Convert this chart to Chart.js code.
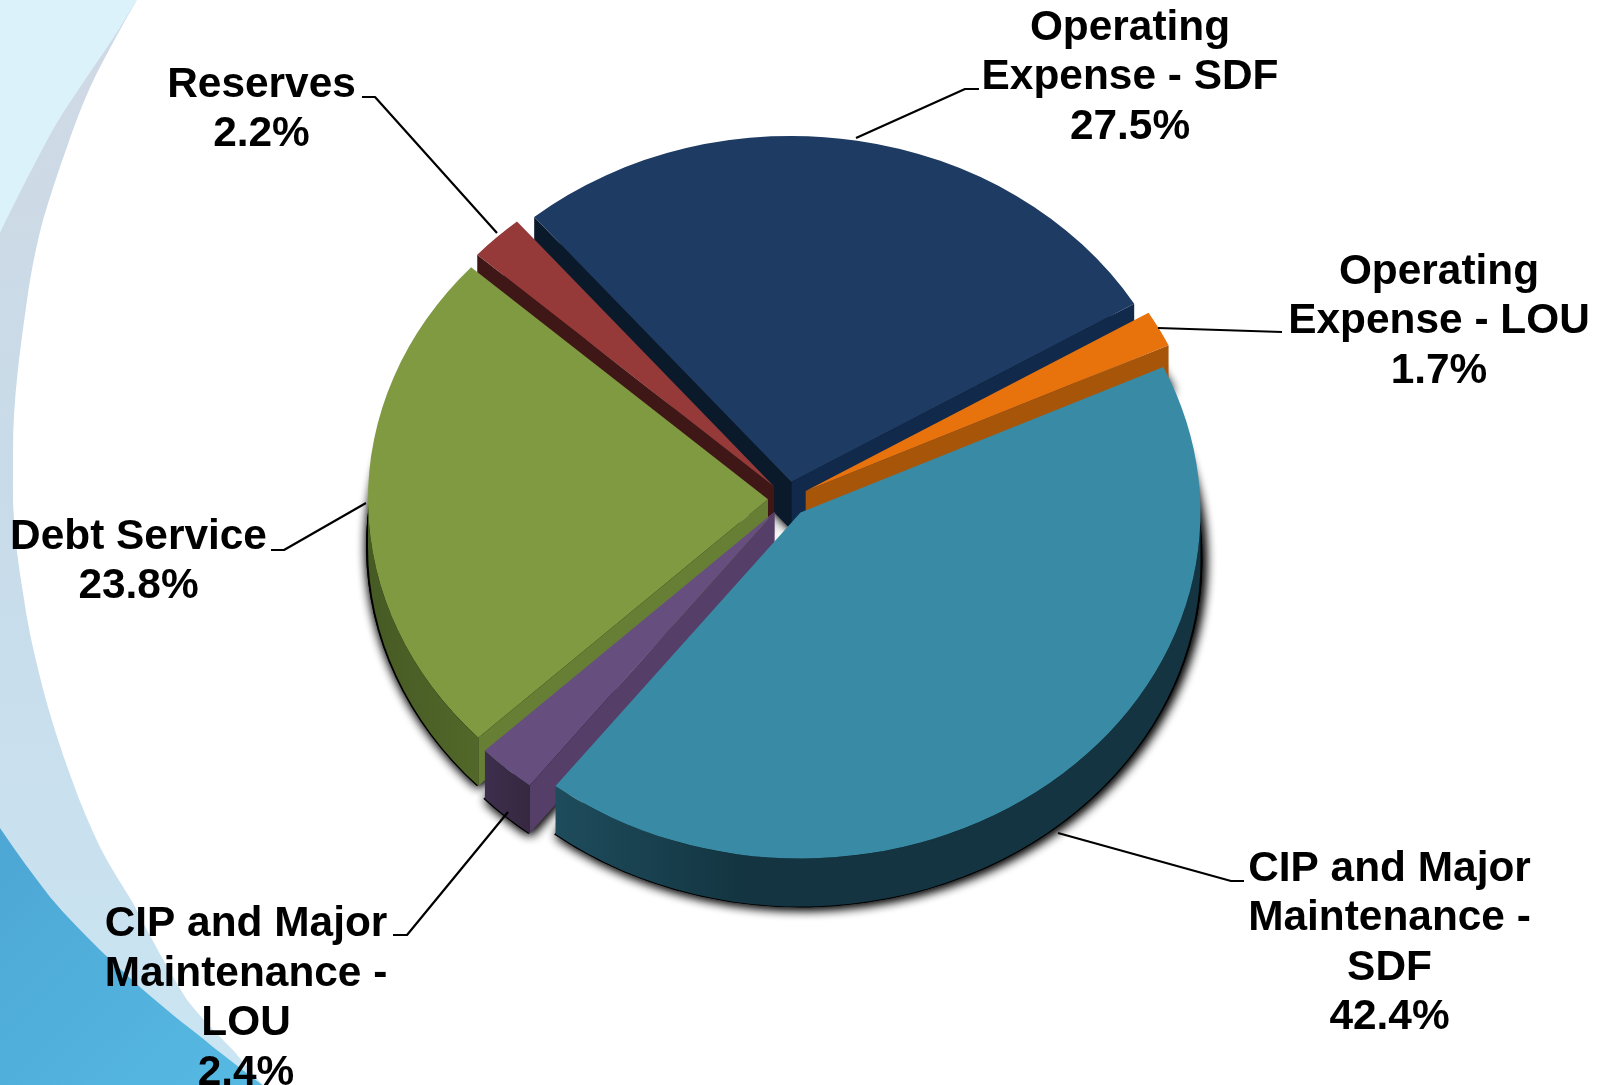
<!DOCTYPE html>
<html>
<head>
<meta charset="utf-8">
<style>
html,body{margin:0;padding:0;background:#fff;overflow:hidden}
#wrap{position:relative;width:1602px;height:1085px}
#bg{position:absolute;left:0;top:0}
#c{position:absolute;left:0;top:0}
</style>
<script src="https://cdn.jsdelivr.net/npm/chart.js@4"></script>
</head>
<body>
<div id="wrap">
<svg id="bg" width="1602" height="1085" viewBox="0 0 1602 1085">
  <defs>
    <linearGradient id="band" x1="0" y1="0" x2="0" y2="1">
      <stop offset="0" stop-color="#d0d9e4"/>
      <stop offset="0.45" stop-color="#c8dbe9"/>
      <stop offset="1" stop-color="#cae5f3"/>
    </linearGradient>
    <linearGradient id="deep" x1="0" y1="0" x2="1" y2="1">
      <stop offset="0" stop-color="#4da6d4"/>
      <stop offset="1" stop-color="#56bae3"/>
    </linearGradient>
  </defs>
  <rect x="0" y="0" width="300" height="1085" fill="url(#band)"/>
  <path fill="#dcf2fb" d="M0 0 L137 0 C 128 14, 120 28, 110 43 C 95 65, 78 90, 63 113 C 52 130, 43 148, 33 167 C 22 188, 10 212, 0 233 Z"/>
  <path fill="url(#deep)" d="M0 828 C 16 852, 33 875, 50 897 C 66 916, 83 933, 100 950 C 122 971, 145 992, 167 1010 C 182 1023, 198 1034, 213 1047 C 230 1060, 245 1072, 262 1085 L 0 1085 Z"/>
  <path fill="#ffffff" d="M137 0 C 124 22, 112 44, 100 67 C 87 92, 76 120, 67 147 C 58 172, 50 196, 43 220 C 36 246, 31 272, 27 300 C 20 350, 13 400, 13 450 C 13 468, 13 484, 13 500 C 14 532, 18 563, 23 593 C 27 622, 33 650, 40 677 C 49 714, 61 750, 72 780 C 80 803, 90 826, 100 847 C 110 867, 122 885, 133 903 C 150 936, 168 970, 187 1000 C 201 1018, 218 1035, 233 1050 C 243 1062, 253 1074, 263 1085 L 1602 1085 L 1602 0 Z"/>
</svg>
<canvas id="c" width="1602" height="1085"></canvas>
</div>
<script>
// ---- data ----
const categories = [
  "Operating Expense - SDF",
  "Operating Expense - LOU",
  "CIP and Major Maintenance - SDF",
  "CIP and Major Maintenance - LOU",
  "Debt Service",
  "Reserves"
];
const shares = [27.5, 1.7, 42.4, 2.4, 23.8, 2.2];

// ---- wrapped label text ----
const labelLines = [
  ["Operating", "Expense - SDF"],
  ["Operating", "Expense - LOU"],
  ["CIP and Major", "Maintenance -", "SDF"],
  ["CIP and Major", "Maintenance -", "LOU"],
  ["Debt Service"],
  ["Reserves"]
];

// ---- styles ----
const topColors   = ["#1e3c63", "#e8720c", "#398ba5", "#664f7f", "#7f9a41", "#953a39"];
const wallStart   = ["#0a1a2a", "#7a3f08", "#1d4a5a", "#553f69", "#667f35", "#3f1717"];
const wallEnd     = ["#11294b", "#a65509", "#143640", "#3a2a4a", "#4a5d25", "#2c1010"];
const rimFrom     = ["#11294b", "#a65509", "#1e4c5c", "#3e2e4e", "#465a24", "#3f1717"];
const rimTo       = ["#11294b", "#a65509", "#133440", "#35283f", "#526729", "#3f1717"];

// ---- layout (pixels, not data) ----
const pieRadius = 400, squash = 0.865, depth = 48, explode = 20;
const labelCentres = [[1130,28],[1439,272],[1389.5,869],[246,924.5],[138.5,537],[261.5,85]];
const lineGap = 49.5;
const leaders = [
  [[856,138],[965,89],[979,89]],
  [[1158,328],[1282,332]],
  [[1058,833],[1231,881],[1244,881]],
  [[508,812],[407,935],[393,935]],
  [[366,503],[284,550],[271,550]],
  [[497,233],[375,97],[362,97]]
];

function pieCentre(chart){
  const a=chart.chartArea;
  return {x:(a.left+a.right)/2, y:(a.top+a.bottom)/2};
}
function apexOf(arc,c){
  const mid=(arc.startAngle+arc.endAngle)/2;
  return {x:arc.x, y:c.y+(arc.y-c.y)*squash, mid};
}
function rimPoint(a,ap,dy){
  return {x:ap.x+Math.cos(a)*pieRadius, y:ap.y+Math.sin(a)*pieRadius*squash+dy};
}
function wedgePath(ctx,arc,ap,dy,grow){
  const r=pieRadius+grow;
  ctx.beginPath();
  ctx.moveTo(ap.x,ap.y+dy);
  ctx.ellipse(ap.x,ap.y+dy,r,r*squash,0,arc.startAngle,arc.endAngle);
  ctx.closePath();
}
function radialWall(ctx,ap,a,color){
  const r0=rimPoint(a,ap,0), r1=rimPoint(a,ap,depth);
  ctx.fillStyle=color;
  ctx.beginPath();
  ctx.moveTo(ap.x,ap.y);
  ctx.lineTo(r0.x,r0.y);
  ctx.lineTo(r1.x,r1.y);
  ctx.lineTo(ap.x,ap.y+depth);
  ctx.closePath();
  ctx.fill();
}
function rimWall(ctx,arc,ap,i){
  const TAU=Math.PI*2;
  let s=arc.startAngle, e=arc.endAngle;
  while(s<-1e-6){s+=TAU;e+=TAU;}
  while(s>=TAU){s-=TAU;e-=TAU;}
  let from,to;
  if(s<Math.PI){from=s;to=Math.min(e,Math.PI);}
  else if(e>TAU){from=TAU;to=Math.min(e,TAU+Math.PI);}
  else return;
  const rx=pieRadius, ry=rx*squash;
  const x0=ap.x+Math.cos(to)*rx, x1=ap.x+Math.cos(from)*rx;
  const g=ctx.createLinearGradient(Math.min(x0,x1),0,Math.max(x0,x1),0);
  g.addColorStop(0,rimFrom[i]); g.addColorStop(i===2?0.3:1,rimTo[i]); g.addColorStop(1,rimTo[i]);
  ctx.fillStyle=g;
  ctx.beginPath();
  ctx.ellipse(ap.x,ap.y,rx,ry,0,from,to);
  ctx.ellipse(ap.x,ap.y+depth,rx,ry,0,to,from,true);
  ctx.closePath();
  ctx.fill();
}

const pie3d = {
  id:'pie3d',
  afterDatasetsUpdate(chart){
    // explode each slice along its own middle angle
    const c=pieCentre(chart);
    chart.getDatasetMeta(0).data.forEach(arc=>{
      const mid=(arc.startAngle+arc.endAngle)/2;
      arc.x=c.x+Math.cos(mid)*explode;
      arc.y=c.y+Math.sin(mid)*explode;
    });
  },
  beforeDatasetsDraw(chart){
    const ctx=chart.ctx, arcs=chart.getDatasetMeta(0).data, c=pieCentre(chart);
    const items=arcs.map((arc,i)=>({arc,i,ap:apexOf(arc,c)}));
    // heavy soft shadow under the body
    ctx.save();
    ctx.shadowColor='#000';
    ctx.shadowBlur=12;
    ctx.shadowOffsetX=2;
    ctx.shadowOffsetY=1;
    ctx.fillStyle='#000';
    items.forEach(it=>{
      for(let n=0;n<2;n++){wedgePath(ctx,it.arc,it.ap,depth-1,2);ctx.fill();}
    });
    ctx.restore();
    // walls, back to front; only the walls that face the viewer
    items.slice().sort((a,b)=>Math.sin(a.ap.mid)-Math.sin(b.ap.mid)).forEach(it=>{
      ctx.save();
      rimWall(ctx,it.arc,it.ap,it.i);
      if(Math.cos(it.arc.startAngle)<0) radialWall(ctx,it.ap,it.arc.startAngle,wallStart[it.i]);
      if(Math.cos(it.arc.endAngle)>0) radialWall(ctx,it.ap,it.arc.endAngle,wallEnd[it.i]);
      ctx.restore();
    });
    // top faces: drawn by the library, flattened about the pie centre
    ctx.save();
    ctx.translate(c.x,c.y);
    ctx.scale(1,squash);
    ctx.translate(-c.x,-c.y);
  },
  afterDatasetsDraw(chart){
    chart.ctx.restore();
  },
  afterDraw(chart){
    const ctx=chart.ctx;
    ctx.save();
    ctx.strokeStyle='#000';
    ctx.lineWidth=2.2;
    ctx.lineJoin='round';
    leaders.forEach(pts=>{
      ctx.beginPath();
      pts.forEach((p,k)=>k?ctx.lineTo(p[0],p[1]):ctx.moveTo(p[0],p[1]));
      ctx.stroke();
    });
    ctx.fillStyle='#000';
    ctx.font='bold 42.4px "Liberation Sans", Arial, sans-serif';
    ctx.textAlign='center';
    ctx.textBaseline='middle';
    shares.forEach((v,i)=>{
      const lines=labelLines[i].concat([v.toFixed(1)+'%']);
      const c=labelCentres[i];
      lines.forEach((t,k)=>ctx.fillText(t,c[0],c[1]+k*lineGap));
    });
    ctx.restore();
  }
};

new Chart(document.getElementById('c'),{
  type:'pie',
  data:{labels:categories,datasets:[{
    data:shares,
    backgroundColor:topColors,
    borderWidth:0,
    offset:0,
    hoverOffset:0,
    clip:false
  }]},
  options:{
    responsive:false,
    devicePixelRatio:1,
    animation:false,
    rotation:-40,
    radius:pieRadius,
    events:[],
    layout:{padding:{left:0,top:0,right:26,bottom:87}},
    plugins:{legend:{display:false},tooltip:{enabled:false},title:{display:false}}
  },
  plugins:[pie3d]
});
</script>
</body>
</html>
